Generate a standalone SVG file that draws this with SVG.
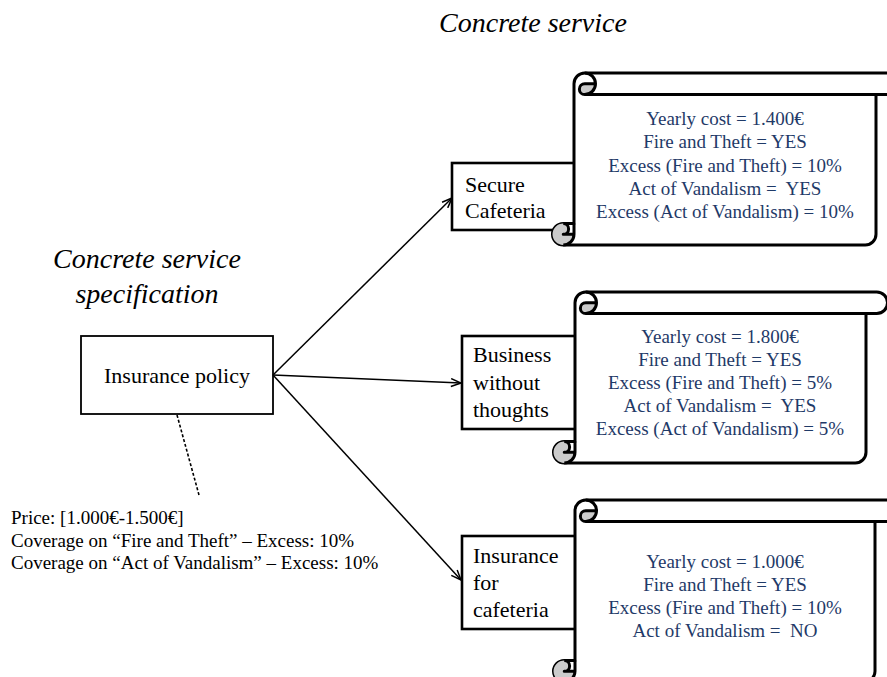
<svg xmlns="http://www.w3.org/2000/svg" width="887" height="677" viewBox="0 0 887 677">
  <style>
    .hdr { font-family: "Liberation Serif", "Times New Roman", serif; font-style: italic; font-size: 28px; fill: #000; text-anchor: middle; }
    .node { fill: #fff; stroke: #000; stroke-width: 2.6; }
    .policy { fill: #fff; stroke: #000; stroke-width: 1.8; }
    .lbl { font-family: "Liberation Serif", "Times New Roman", serif; font-size: 22px; fill: #000; }
    .note { font-family: "Liberation Serif", "Times New Roman", serif; font-size: 19px; fill: #000; white-space: pre; }
    .scroll { fill: #fff; stroke: #000; stroke-width: 3; stroke-linejoin: round; }
    .curl { fill: #cbcbcb; stroke: none; }
    .detail { fill: none; stroke: #000; stroke-width: 3; stroke-linejoin: round; }
    .spec { font-family: "Liberation Serif", "Times New Roman", serif; font-size: 19px; fill: #1f3a68; text-anchor: middle; white-space: pre; }
    .conn { fill: none; stroke: #000; stroke-width: 1.5; }
    .dash { fill: none; stroke: #000; stroke-width: 1.6; stroke-dasharray: 3 2; }
  </style>
  <defs>
    <marker id="open-arrow" viewBox="0 0 12 10" refX="11" refY="5" markerWidth="12" markerHeight="10" markerUnits="userSpaceOnUse" orient="auto">
      <path d="M1,1 L11,5 L1,9" fill="none" stroke="#000" stroke-width="1.5"/>
    </marker>
  </defs>

  <!-- headings -->
  <text class="hdr" x="533" y="32">Concrete service</text>
  <text class="hdr" x="147" y="268">Concrete service</text>
  <text class="hdr" x="147" y="303">specification</text>

  <!-- abstract specification -->
  <g id="insurance-policy">
    <rect class="policy" x="81" y="336" width="192" height="78"/>
    <text class="lbl" x="177" y="383" text-anchor="middle">Insurance policy</text>
  </g>

  <g id="policy-note">
    <text class="note" x="11" y="524">Price: [1.000€-1.500€]</text>
    <text class="note" x="11" y="547">Coverage on “Fire and Theft” – Excess: 10%</text>
    <text class="note" x="11" y="569">Coverage on “Act of Vandalism” – Excess: 10%</text>
  </g>

  <!-- concrete services (boxes sit behind their scrolls) -->
  <g id="secure-cafeteria">
    <rect class="node" x="452" y="163" width="124" height="67"/>
    <text class="lbl" x="465" y="192">Secure</text>
    <text class="lbl" x="465" y="218">Cafeteria</text>
  </g>
  <g id="business-without-thoughts">
    <rect class="node" x="462" y="336" width="114" height="93"/>
    <text class="lbl" x="473" y="362">Business</text>
    <text class="lbl" x="473" y="390">without</text>
    <text class="lbl" x="473" y="417">thoughts</text>
  </g>
  <g id="insurance-for-cafeteria">
    <rect class="node" x="462" y="536" width="114" height="93"/>
    <text class="lbl" x="473" y="563">Insurance</text>
    <text class="lbl" x="473" y="590">for</text>
    <text class="lbl" x="473" y="617">cafeteria</text>
  </g>

  <!-- offer scrolls -->
  <g id="offer-secure-cafeteria">
    <g transform="translate(552.5,73)">
      <path class="scroll" d="M21.5,150.5 L21.5,10.75 A10.75,10.75 0 0 1 32.25,0 L334.25,0 A10.75,10.75 0 0 1 334.25,21.5 L323.5,21.5 L323.5,161.25 A10.75,10.75 0 0 1 312.75,172 L10.75,172 A10.75,10.75 0 0 1 10.75,150.5 Z"/>
      <path class="curl" d="M43,10.75 A10.75,10.75 0 0 1 32.25,21.5 A5.375,5.375 0 0 1 32.25,10.75 Z M21.5,161.25 A10.75,10.75 0 1 1 10.75,150.5 A5.375,5.375 0 0 1 10.75,161.25 Z"/>
      <path class="detail" d="M32.25,0 A10.75,10.75 0 0 1 32.25,21.5 A5.375,5.375 0 0 1 32.25,10.75 L43,10.75 M323.5,21.5 L32.25,21.5 M10.75,150.5 A5.375,5.375 0 0 1 10.75,161.25 L21.5,161.25 M10.75,172 A10.75,10.75 0 0 0 21.5,161.25 L21.5,150.5"/>
    </g>
    <text class="spec" x="725" y="125">Yearly cost = 1.400€</text>
    <text class="spec" x="725" y="148">Fire and Theft = YES</text>
    <text class="spec" x="725" y="172">Excess (Fire and Theft) = 10%</text>
    <text class="spec" x="725" y="195">Act of Vandalism =  YES</text>
    <text class="spec" x="725" y="218">Excess (Act of Vandalism) = 10%</text>
  </g>

  <g id="offer-business-without-thoughts">
    <g transform="translate(553.5,292)">
      <path class="scroll" d="M21.5,149.5 L21.5,10.75 A10.75,10.75 0 0 1 32.25,0 L323.25,0 A10.75,10.75 0 0 1 323.25,21.5 L312.5,21.5 L312.5,160.25 A10.75,10.75 0 0 1 301.75,171 L10.75,171 A10.75,10.75 0 0 1 10.75,149.5 Z"/>
      <path class="curl" d="M43,10.75 A10.75,10.75 0 0 1 32.25,21.5 A5.375,5.375 0 0 1 32.25,10.75 Z M21.5,160.25 A10.75,10.75 0 1 1 10.75,149.5 A5.375,5.375 0 0 1 10.75,160.25 Z"/>
      <path class="detail" d="M32.25,0 A10.75,10.75 0 0 1 32.25,21.5 A5.375,5.375 0 0 1 32.25,10.75 L43,10.75 M312.5,21.5 L32.25,21.5 M10.75,149.5 A5.375,5.375 0 0 1 10.75,160.25 L21.5,160.25 M10.75,171 A10.75,10.75 0 0 0 21.5,160.25 L21.5,149.5"/>
    </g>
    <text class="spec" x="720" y="343">Yearly cost = 1.800€</text>
    <text class="spec" x="720" y="366">Fire and Theft = YES</text>
    <text class="spec" x="720" y="389">Excess (Fire and Theft) = 5%</text>
    <text class="spec" x="720" y="412">Act of Vandalism =  YES</text>
    <text class="spec" x="720" y="435">Excess (Act of Vandalism) = 5%</text>
  </g>

  <g id="offer-insurance-for-cafeteria">
    <g transform="translate(553.5,500)">
      <path class="scroll" d="M21.5,160.5 L21.5,10.75 A10.75,10.75 0 0 1 32.25,0 L332.25,0 A10.75,10.75 0 0 1 332.25,21.5 L321.5,21.5 L321.5,171.25 A10.75,10.75 0 0 1 310.75,182 L10.75,182 A10.75,10.75 0 0 1 10.75,160.5 Z"/>
      <path class="curl" d="M43,10.75 A10.75,10.75 0 0 1 32.25,21.5 A5.375,5.375 0 0 1 32.25,10.75 Z M21.5,171.25 A10.75,10.75 0 1 1 10.75,160.5 A5.375,5.375 0 0 1 10.75,171.25 Z"/>
      <path class="detail" d="M32.25,0 A10.75,10.75 0 0 1 32.25,21.5 A5.375,5.375 0 0 1 32.25,10.75 L43,10.75 M321.5,21.5 L32.25,21.5 M10.75,160.5 A5.375,5.375 0 0 1 10.75,171.25 L21.5,171.25 M10.75,182 A10.75,10.75 0 0 0 21.5,171.25 L21.5,160.5"/>
    </g>
    <text class="spec" x="725" y="568">Yearly cost = 1.000€</text>
    <text class="spec" x="725" y="591">Fire and Theft = YES</text>
    <text class="spec" x="725" y="614">Excess (Fire and Theft) = 10%</text>
    <text class="spec" x="725" y="637">Act of Vandalism =  NO</text>
  </g>

  <!-- connectors -->
  <g id="connectors">
    <line class="dash" x1="177" y1="415" x2="199" y2="495"/>
    <line class="conn" x1="273" y1="375" x2="452" y2="198" marker-end="url(#open-arrow)"/>
    <line class="conn" x1="273" y1="375" x2="461" y2="383" marker-end="url(#open-arrow)"/>
    <line class="conn" x1="273" y1="375" x2="461" y2="580" marker-end="url(#open-arrow)"/>
  </g>
</svg>
